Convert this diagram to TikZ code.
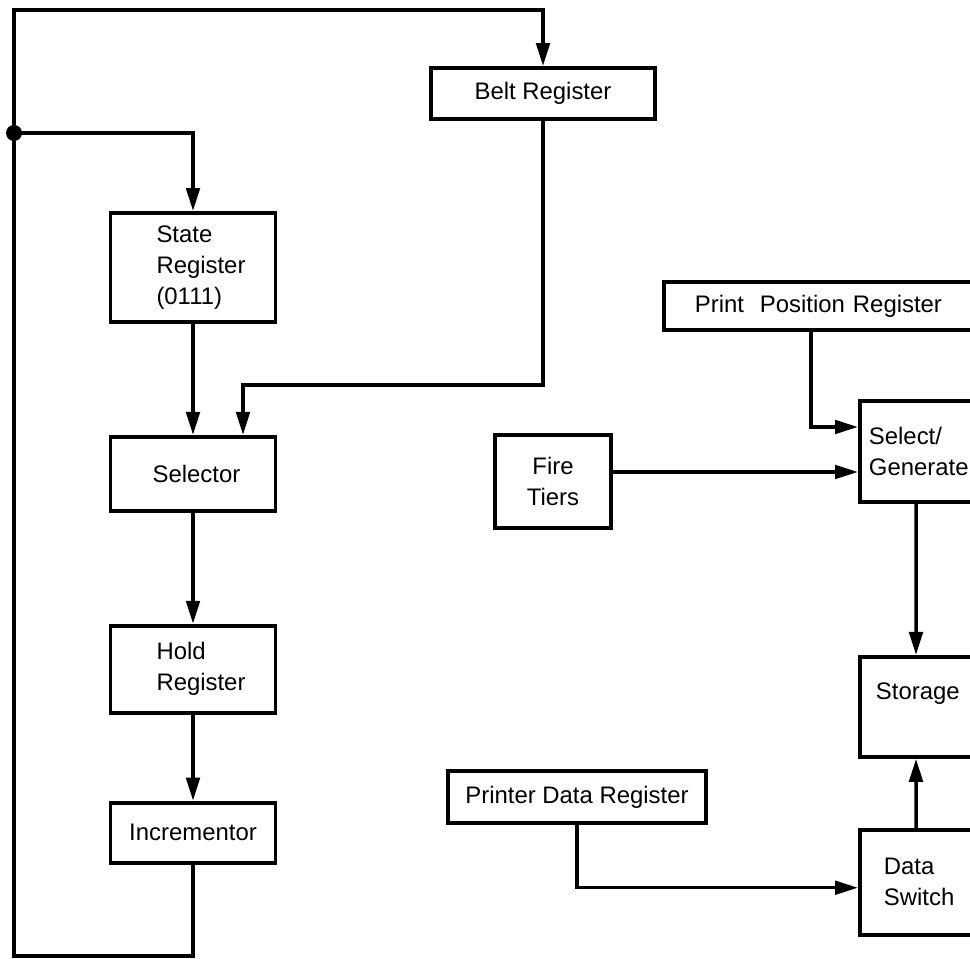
\documentclass[tikz,border=0pt]{standalone}
\usepackage{fontspec}
\setmainfont{Liberation Sans}
\usetikzlibrary{arrows.meta, positioning, calc}

\begin{document}
\begin{tikzpicture}[
	node distance = 2.22cm,
	font = \fontsize{13.6}{17.6}\selectfont,
	box/.style = {rectangle, draw, line width=2.2pt, minimum width=3.3cm, align=center, inner sep=2pt},
	openbox/.style = {box, anchor=west, align=left, minimum width=4cm},
	line/.style = {draw, line width=2pt, -{Triangle[length=0.46cm, width=0.27cm]}}
	]
	
	\useasboundingbox (0,0) rectangle (19.4,-19.18);
	\clip (0,0) rectangle (19.4,-19.18);
	
	% Nodes
	\node [box, minimum height=1.02cm, minimum width=4.48cm] (belt) at (10.86,-1.87) {Belt Register};
	\node [box, minimum height=2.18cm, align=left, text width=1.46cm, inner xsep=0.92cm] (state) at (3.86,-5.35) {State \\ Register \\ (0111)};
	\node [box, minimum height=1.48cm, below=of state] (selector) {\hspace*{0.14cm}Selector};
	\node [box, minimum height=1.74cm, align=left, text width=1.46cm, inner xsep=0.92cm, below=of selector] (hold) {Hold \\ Register};
	\node [box, minimum height=1.2cm, below=1.72cm of hold] (incr) {Incrementor};
	
	% Print side
	\node [openbox, minimum height=0.96cm, inner xsep=0.62cm, text width=6.76cm] (ppr) at (13.24,-6.12) {Print\ \ Position Register};
	\node [openbox, minimum height=2.02cm, inner xsep=0.18cm, text width=3.64cm] (gen) at (17.16,-9.03) {Select/ \\ Generate};
	\node [box, minimum height=1.86cm, minimum width=2.32cm] (fire) at (11.06,-9.63) {Fire \\ Tiers};
	\node [openbox, minimum height=2cm, inner xsep=0.32cm, text width=3.36cm, below=3.02cm of gen] (storage) {Storage \\ \mbox{}};
	\node [openbox, minimum height=2.1cm, inner xsep=0.48cm, text width=3.04cm, below=1.38cm of storage] (dsw) {Data \\ Switch};
	\node [box, minimum height=1.04cm, minimum width=5.16cm] (pdr) at (11.54,-15.94) {Printer Data Register};
	
	% Loop corners
	\coordinate (tap) at (0.28,-2.66);
	\coordinate (cornerbl) at (0.28,-19.12);
	\coordinate (cornertl) at (0.28,-0.2);
	
	% Lines
	\path [line] (incr.south) |- (cornerbl) -- (cornertl) -| (belt.north);
	\fill (tap) circle (0.16cm);
	\path [line] (tap) -| (state.north);
	\path [line] (state) -- (selector);
	\path [line] (belt.south) -- ++(0,-5.28) -| ([xshift=1cm]selector.north);
	\path [line] (selector) -- (hold);
	\path [line] (hold) -- (incr);
	
	\path [line] ([xshift=2.98cm]ppr.south west) |- ([yshift=0.49cm]gen.west);
	\path [line] ([yshift=0.19cm]fire.east) -- ([yshift=0.19cm]fire.east -| gen.west);
	\path [line] ([xshift=1.16cm]gen.south west) -- ([xshift=1.16cm]storage.north west);
	\path [line] ([xshift=1.16cm]dsw.north west) -- ([xshift=1.16cm]storage.south west);
	\path [line] (pdr.south) |- ([yshift=-0.11cm]dsw.west);
	\end{tikzpicture}
\end{document}
